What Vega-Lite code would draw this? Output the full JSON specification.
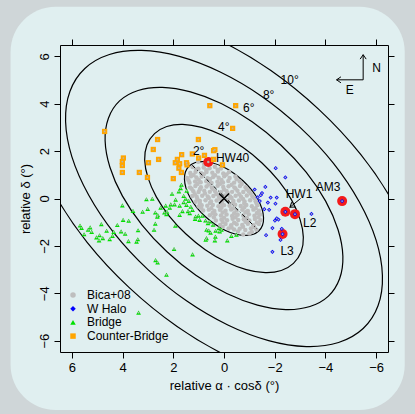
{
"$schema": "https://vega.github.io/schema/vega-lite/v6.json",
"width": 328, "height": 307,
"autosize": {"type": "none"},
"padding": {"left": 60, "top": 45, "right": 27, "bottom": 62},
"background": "#cfd6d8",
"config": {
  "font": "Liberation Sans",
  "view": {"stroke": null},
  "axis": {"zindex": 1, "domainColor": "black", "domainWidth": 1, "tickColor": "black", "tickSize": 6, "tickWidth": 1, "labelColor": "black", "labelFontSize": 13, "labelFont": "Liberation Sans", "titleFont": "Liberation Sans", "titleFontSize": 13, "titleFontWeight": "normal", "titleColor": "black", "grid": false, "labelFlush": false, "labelOverlap": false, "labelBound": false},
  "legend": {"orient": "none", "legendX": 7, "legendY": 244, "labelFontSize": 12, "labelFont": "Liberation Sans", "labelColor": "black", "symbolSize": 30, "rowPadding": 1.7, "labelOffset": 8, "padding": 0, "symbolStrokeWidth": 0, "symbolOpacity": 1}
},
"datasets": {
  "ell": [
    {"r":2,"i":0,"x":1.37,"y":1.37},{"r":2,"i":1,"x":1.13,"y":1.52},{"r":2,"i":2,"x":0.81,"y":1.56},{"r":2,"i":3,"x":0.44,"y":1.50},{"r":2,"i":4,"x":0.04,"y":1.34},{"r":2,"i":5,"x":-0.37,"y":1.08},{"r":2,"i":6,"x":-0.75,"y":0.75},{"r":2,"i":7,"x":-1.08,"y":0.37},{"r":2,"i":8,"x":-1.34,"y":-0.04},{"r":2,"i":9,"x":-1.50,"y":-0.44},{"r":2,"i":10,"x":-1.56,"y":-0.81},{"r":2,"i":11,"x":-1.52,"y":-1.13},{"r":2,"i":12,"x":-1.37,"y":-1.37},{"r":2,"i":13,"x":-1.13,"y":-1.52},{"r":2,"i":14,"x":-0.81,"y":-1.56},{"r":2,"i":15,"x":-0.44,"y":-1.50},{"r":2,"i":16,"x":-0.04,"y":-1.34},{"r":2,"i":17,"x":0.37,"y":-1.08},{"r":2,"i":18,"x":0.75,"y":-0.75},{"r":2,"i":19,"x":1.08,"y":-0.37},{"r":2,"i":20,"x":1.34,"y":0.04},{"r":2,"i":21,"x":1.50,"y":0.44},{"r":2,"i":22,"x":1.56,"y":0.81},{"r":2,"i":23,"x":1.52,"y":1.13},
    {"r":4,"i":0,"x":2.74,"y":2.74},{"r":4,"i":1,"x":2.26,"y":3.04},{"r":4,"i":2,"x":1.63,"y":3.13},{"r":4,"i":3,"x":0.88,"y":3.00},{"r":4,"i":4,"x":0.07,"y":2.67},{"r":4,"i":5,"x":-0.74,"y":2.16},{"r":4,"i":6,"x":-1.50,"y":1.50},{"r":4,"i":7,"x":-2.16,"y":0.74},{"r":4,"i":8,"x":-2.67,"y":-0.07},{"r":4,"i":9,"x":-3.00,"y":-0.88},{"r":4,"i":10,"x":-3.13,"y":-1.63},{"r":4,"i":11,"x":-3.04,"y":-2.26},{"r":4,"i":12,"x":-2.74,"y":-2.74},{"r":4,"i":13,"x":-2.26,"y":-3.04},{"r":4,"i":14,"x":-1.63,"y":-3.13},{"r":4,"i":15,"x":-0.88,"y":-3.00},{"r":4,"i":16,"x":-0.07,"y":-2.67},{"r":4,"i":17,"x":0.74,"y":-2.16},{"r":4,"i":18,"x":1.50,"y":-1.50},{"r":4,"i":19,"x":2.16,"y":-0.74},{"r":4,"i":20,"x":2.67,"y":0.07},{"r":4,"i":21,"x":3.00,"y":0.88},{"r":4,"i":22,"x":3.13,"y":1.63},{"r":4,"i":23,"x":3.04,"y":2.26},
    {"r":6,"i":0,"x":4.12,"y":4.12},{"r":6,"i":1,"x":3.39,"y":4.56},{"r":6,"i":2,"x":2.44,"y":4.69},{"r":6,"i":3,"x":1.32,"y":4.50},{"r":6,"i":4,"x":0.11,"y":4.01},{"r":6,"i":5,"x":-1.11,"y":3.24},{"r":6,"i":6,"x":-2.25,"y":2.25},{"r":6,"i":7,"x":-3.24,"y":1.11},{"r":6,"i":8,"x":-4.01,"y":-0.11},{"r":6,"i":9,"x":-4.50,"y":-1.32},{"r":6,"i":10,"x":-4.69,"y":-2.44},{"r":6,"i":11,"x":-4.56,"y":-3.39},{"r":6,"i":12,"x":-4.12,"y":-4.12},{"r":6,"i":13,"x":-3.39,"y":-4.56},{"r":6,"i":14,"x":-2.44,"y":-4.69},{"r":6,"i":15,"x":-1.32,"y":-4.50},{"r":6,"i":16,"x":-0.11,"y":-4.01},{"r":6,"i":17,"x":1.11,"y":-3.24},{"r":6,"i":18,"x":2.25,"y":-2.25},{"r":6,"i":19,"x":3.24,"y":-1.11},{"r":6,"i":20,"x":4.01,"y":0.11},{"r":6,"i":21,"x":4.50,"y":1.32},{"r":6,"i":22,"x":4.69,"y":2.44},{"r":6,"i":23,"x":4.56,"y":3.39},
    {"r":8,"i":0,"x":5.49,"y":5.49},{"r":8,"i":1,"x":4.52,"y":6.08},{"r":8,"i":2,"x":3.25,"y":6.25},{"r":8,"i":3,"x":1.76,"y":6.00},{"r":8,"i":4,"x":0.15,"y":5.34},{"r":8,"i":5,"x":-1.48,"y":4.32},{"r":8,"i":6,"x":-3.00,"y":3.00},{"r":8,"i":7,"x":-4.32,"y":1.48},{"r":8,"i":8,"x":-5.34,"y":-0.15},{"r":8,"i":9,"x":-6.00,"y":-1.76},{"r":8,"i":10,"x":-6.25,"y":-3.25},{"r":8,"i":11,"x":-6.08,"y":-4.52},{"r":8,"i":12,"x":-5.49,"y":-5.49},{"r":8,"i":13,"x":-4.52,"y":-6.08},{"r":8,"i":14,"x":-3.25,"y":-6.25},{"r":8,"i":15,"x":-1.76,"y":-6.00},{"r":8,"i":16,"x":-0.15,"y":-5.34},{"r":8,"i":17,"x":1.48,"y":-4.32},{"r":8,"i":18,"x":3.00,"y":-3.00},{"r":8,"i":19,"x":4.32,"y":-1.48},{"r":8,"i":20,"x":5.34,"y":0.15},{"r":8,"i":21,"x":6.00,"y":1.76},{"r":8,"i":22,"x":6.25,"y":3.25},{"r":8,"i":23,"x":6.08,"y":4.52},
    {"r":10,"i":0,"x":6.86,"y":6.86},{"r":10,"i":1,"x":5.66,"y":7.60},{"r":10,"i":2,"x":4.07,"y":7.81},{"r":10,"i":3,"x":2.20,"y":7.50},{"r":10,"i":4,"x":0.18,"y":6.68},{"r":10,"i":5,"x":-1.85,"y":5.40},{"r":10,"i":6,"x":-3.75,"y":3.75},{"r":10,"i":7,"x":-5.40,"y":1.85},{"r":10,"i":8,"x":-6.68,"y":-0.18},{"r":10,"i":9,"x":-7.50,"y":-2.20},{"r":10,"i":10,"x":-7.81,"y":-4.07},{"r":10,"i":11,"x":-7.60,"y":-5.66},{"r":10,"i":12,"x":-6.86,"y":-6.86},{"r":10,"i":13,"x":-5.66,"y":-7.60},{"r":10,"i":14,"x":-4.07,"y":-7.81},{"r":10,"i":15,"x":-2.20,"y":-7.50},{"r":10,"i":16,"x":-0.18,"y":-6.68},{"r":10,"i":17,"x":1.85,"y":-5.40},{"r":10,"i":18,"x":3.75,"y":-3.75},{"r":10,"i":19,"x":5.40,"y":-1.85},{"r":10,"i":20,"x":6.68,"y":0.18},{"r":10,"i":21,"x":7.50,"y":2.20},{"r":10,"i":22,"x":7.81,"y":4.07},{"r":10,"i":23,"x":7.60,"y":5.66}
  ],
  "pts": [
    {"t":"Bica+08","x":0.55,"y":1.53},{"t":"Bica+08","x":0.79,"y":1.46},{"t":"Bica+08","x":1.02,"y":1.55},
    {"t":"Bica+08","x":0.12,"y":1.27},{"t":"Bica+08","x":0.36,"y":1.34},{"t":"Bica+08","x":0.57,"y":1.28},{"t":"Bica+08","x":0.8,"y":1.31},{"t":"Bica+08","x":1.01,"y":1.26},{"t":"Bica+08","x":1.24,"y":1.33},
    {"t":"Bica+08","x":-0.2,"y":1.12},{"t":"Bica+08","x":0.03,"y":1.06},{"t":"Bica+08","x":0.24,"y":1.14},{"t":"Bica+08","x":0.46,"y":1.09},{"t":"Bica+08","x":0.69,"y":1.12},{"t":"Bica+08","x":0.9,"y":1.07},{"t":"Bica+08","x":1.12,"y":1.13},{"t":"Bica+08","x":1.33,"y":1.08},
    {"t":"Bica+08","x":-0.45,"y":0.93},{"t":"Bica+08","x":-0.22,"y":0.87},{"t":"Bica+08","x":-0.01,"y":0.94},{"t":"Bica+08","x":0.21,"y":0.88},{"t":"Bica+08","x":0.43,"y":0.91},{"t":"Bica+08","x":0.65,"y":0.86},{"t":"Bica+08","x":0.88,"y":0.93},{"t":"Bica+08","x":1.09,"y":0.89},{"t":"Bica+08","x":1.3,"y":0.94},{"t":"Bica+08","x":1.46,"y":0.87},
    {"t":"Bica+08","x":-0.62,"y":0.72},{"t":"Bica+08","x":-0.4,"y":0.67},{"t":"Bica+08","x":-0.17,"y":0.74},{"t":"Bica+08","x":0.04,"y":0.68},{"t":"Bica+08","x":0.26,"y":0.71},{"t":"Bica+08","x":0.49,"y":0.66},{"t":"Bica+08","x":0.7,"y":0.73},{"t":"Bica+08","x":0.92,"y":0.69},{"t":"Bica+08","x":1.14,"y":0.72},{"t":"Bica+08","x":1.36,"y":0.67},
    {"t":"Bica+08","x":-0.85,"y":0.48},{"t":"Bica+08","x":-0.63,"y":0.53},{"t":"Bica+08","x":-0.41,"y":0.47},{"t":"Bica+08","x":-0.18,"y":0.52},{"t":"Bica+08","x":0.03,"y":0.49},{"t":"Bica+08","x":0.25,"y":0.54},{"t":"Bica+08","x":0.48,"y":0.46},{"t":"Bica+08","x":0.69,"y":0.51},{"t":"Bica+08","x":0.91,"y":0.48},{"t":"Bica+08","x":1.13,"y":0.53},{"t":"Bica+08","x":1.34,"y":0.47},
    {"t":"Bica+08","x":-0.98,"y":0.31},{"t":"Bica+08","x":-0.76,"y":0.27},{"t":"Bica+08","x":-0.53,"y":0.33},{"t":"Bica+08","x":-0.32,"y":0.28},{"t":"Bica+08","x":-0.1,"y":0.32},{"t":"Bica+08","x":0.12,"y":0.26},{"t":"Bica+08","x":0.35,"y":0.31},{"t":"Bica+08","x":0.56,"y":0.28},{"t":"Bica+08","x":0.78,"y":0.33},{"t":"Bica+08","x":1.0,"y":0.27},{"t":"Bica+08","x":1.21,"y":0.31},
    {"t":"Bica+08","x":-1.12,"y":0.08},{"t":"Bica+08","x":-0.9,"y":0.13},{"t":"Bica+08","x":-0.67,"y":0.07},{"t":"Bica+08","x":-0.46,"y":0.12},{"t":"Bica+08","x":-0.24,"y":0.09},{"t":"Bica+08","x":-0.02,"y":0.13},{"t":"Bica+08","x":0.2,"y":0.06},{"t":"Bica+08","x":0.42,"y":0.11},{"t":"Bica+08","x":0.64,"y":0.08},{"t":"Bica+08","x":0.86,"y":0.12},{"t":"Bica+08","x":1.08,"y":0.07},{"t":"Bica+08","x":1.25,"y":0.11},
    {"t":"Bica+08","x":-1.25,"y":-0.12},{"t":"Bica+08","x":-1.03,"y":-0.07},{"t":"Bica+08","x":-0.81,"y":-0.13},{"t":"Bica+08","x":-0.59,"y":-0.08},{"t":"Bica+08","x":-0.37,"y":-0.11},{"t":"Bica+08","x":-0.15,"y":-0.06},{"t":"Bica+08","x":0.07,"y":-0.12},{"t":"Bica+08","x":0.29,"y":-0.08},{"t":"Bica+08","x":0.51,"y":-0.13},{"t":"Bica+08","x":0.73,"y":-0.07},{"t":"Bica+08","x":0.95,"y":-0.1},{"t":"Bica+08","x":1.12,"y":-0.14},
    {"t":"Bica+08","x":-1.32,"y":-0.28},{"t":"Bica+08","x":-1.1,"y":-0.33},{"t":"Bica+08","x":-0.88,"y":-0.27},{"t":"Bica+08","x":-0.66,"y":-0.32},{"t":"Bica+08","x":-0.44,"y":-0.26},{"t":"Bica+08","x":-0.22,"y":-0.31},{"t":"Bica+08","x":0.0,"y":-0.28},{"t":"Bica+08","x":0.22,"y":-0.33},{"t":"Bica+08","x":0.44,"y":-0.27},{"t":"Bica+08","x":0.66,"y":-0.31},{"t":"Bica+08","x":0.88,"y":-0.28},{"t":"Bica+08","x":1.0,"y":-0.34},
    {"t":"Bica+08","x":-1.38,"y":-0.52},{"t":"Bica+08","x":-1.16,"y":-0.47},{"t":"Bica+08","x":-0.94,"y":-0.53},{"t":"Bica+08","x":-0.72,"y":-0.48},{"t":"Bica+08","x":-0.5,"y":-0.51},{"t":"Bica+08","x":-0.28,"y":-0.46},{"t":"Bica+08","x":-0.06,"y":-0.52},{"t":"Bica+08","x":0.16,"y":-0.48},{"t":"Bica+08","x":0.38,"y":-0.53},{"t":"Bica+08","x":0.6,"y":-0.47},{"t":"Bica+08","x":0.82,"y":-0.51},
    {"t":"Bica+08","x":-1.42,"y":-0.68},{"t":"Bica+08","x":-1.2,"y":-0.73},{"t":"Bica+08","x":-0.98,"y":-0.67},{"t":"Bica+08","x":-0.76,"y":-0.72},{"t":"Bica+08","x":-0.54,"y":-0.69},{"t":"Bica+08","x":-0.32,"y":-0.74},{"t":"Bica+08","x":-0.1,"y":-0.68},{"t":"Bica+08","x":0.12,"y":-0.72},{"t":"Bica+08","x":0.34,"y":-0.67},{"t":"Bica+08","x":0.56,"y":-0.71},
    {"t":"Bica+08","x":-1.44,"y":-0.92},{"t":"Bica+08","x":-1.22,"y":-0.87},{"t":"Bica+08","x":-1.0,"y":-0.93},{"t":"Bica+08","x":-0.78,"y":-0.88},{"t":"Bica+08","x":-0.56,"y":-0.91},{"t":"Bica+08","x":-0.34,"y":-0.86},{"t":"Bica+08","x":-0.12,"y":-0.92},{"t":"Bica+08","x":0.1,"y":-0.89},{"t":"Bica+08","x":0.32,"y":-0.93},
    {"t":"Bica+08","x":-1.38,"y":-1.08},{"t":"Bica+08","x":-1.16,"y":-1.13},{"t":"Bica+08","x":-0.94,"y":-1.07},{"t":"Bica+08","x":-0.72,"y":-1.12},{"t":"Bica+08","x":-0.5,"y":-1.09},{"t":"Bica+08","x":-0.28,"y":-1.13},{"t":"Bica+08","x":-0.06,"y":-1.08},{"t":"Bica+08","x":0.15,"y":-1.12},
    {"t":"Bica+08","x":-1.28,"y":-1.32},{"t":"Bica+08","x":-1.06,"y":-1.27},{"t":"Bica+08","x":-0.84,"y":-1.33},{"t":"Bica+08","x":-0.62,"y":-1.28},{"t":"Bica+08","x":-0.4,"y":-1.31},{"t":"Bica+08","x":-0.18,"y":-1.27},
    {"t":"Bica+08","x":-1.0,"y":-1.48},{"t":"Bica+08","x":-0.76,"y":-1.52},
    {"t":"Bica+08","x":0.25,"y":1.21},{"t":"Bica+08","x":0.7,"y":1.19},{"t":"Bica+08","x":1.1,"y":1.22},
    {"t":"Bica+08","x":-0.1,"y":1.01},{"t":"Bica+08","x":0.35,"y":0.98},{"t":"Bica+08","x":0.8,"y":1.02},{"t":"Bica+08","x":1.2,"y":0.99},
    {"t":"Bica+08","x":-0.5,"y":0.81},{"t":"Bica+08","x":0.1,"y":0.78},{"t":"Bica+08","x":0.55,"y":0.82},{"t":"Bica+08","x":1.0,"y":0.79},{"t":"Bica+08","x":1.4,"y":0.77},
    {"t":"Bica+08","x":-0.7,"y":0.61},{"t":"Bica+08","x":-0.3,"y":0.58},{"t":"Bica+08","x":0.15,"y":0.62},{"t":"Bica+08","x":0.6,"y":0.59},{"t":"Bica+08","x":1.05,"y":0.61},
    {"t":"Bica+08","x":-0.9,"y":0.39},{"t":"Bica+08","x":-0.45,"y":0.42},{"t":"Bica+08","x":0.0,"y":0.38},{"t":"Bica+08","x":0.45,"y":0.41},{"t":"Bica+08","x":0.95,"y":0.39},{"t":"Bica+08","x":1.28,"y":0.41},
    {"t":"Bica+08","x":-1.05,"y":0.21},{"t":"Bica+08","x":-0.6,"y":0.18},{"t":"Bica+08","x":-0.15,"y":0.22},{"t":"Bica+08","x":0.3,"y":0.19},{"t":"Bica+08","x":0.75,"y":0.21},{"t":"Bica+08","x":1.15,"y":0.18},
    {"t":"Bica+08","x":-1.2,"y":0.01},{"t":"Bica+08","x":-0.75,"y":-0.02},{"t":"Bica+08","x":-0.3,"y":0.02},{"t":"Bica+08","x":0.15,"y":-0.01},{"t":"Bica+08","x":0.6,"y":0.02},{"t":"Bica+08","x":1.05,"y":-0.02},
    {"t":"Bica+08","x":-1.28,"y":-0.19},{"t":"Bica+08","x":-0.8,"y":-0.21},{"t":"Bica+08","x":-0.35,"y":-0.18},{"t":"Bica+08","x":0.1,"y":-0.22},{"t":"Bica+08","x":0.55,"y":-0.19},{"t":"Bica+08","x":0.95,"y":-0.21},
    {"t":"Bica+08","x":-1.25,"y":-0.41},{"t":"Bica+08","x":-0.8,"y":-0.38},{"t":"Bica+08","x":-0.35,"y":-0.42},{"t":"Bica+08","x":0.1,"y":-0.39},{"t":"Bica+08","x":0.5,"y":-0.41},{"t":"Bica+08","x":0.9,"y":-0.39},
    {"t":"Bica+08","x":-1.3,"y":-0.61},{"t":"Bica+08","x":-0.85,"y":-0.58},{"t":"Bica+08","x":-0.4,"y":-0.62},{"t":"Bica+08","x":0.05,"y":-0.59},{"t":"Bica+08","x":0.45,"y":-0.61},
    {"t":"Bica+08","x":-1.35,"y":-0.79},{"t":"Bica+08","x":-0.9,"y":-0.82},{"t":"Bica+08","x":-0.45,"y":-0.79},{"t":"Bica+08","x":0.0,"y":-0.81},{"t":"Bica+08","x":0.4,"y":-0.79},
    {"t":"Bica+08","x":-1.3,"y":-1.01},{"t":"Bica+08","x":-0.85,"y":-0.98},{"t":"Bica+08","x":-0.4,"y":-1.02},{"t":"Bica+08","x":0.05,"y":-0.99},
    {"t":"Bica+08","x":-1.2,"y":-1.21},{"t":"Bica+08","x":-0.75,"y":-1.19},{"t":"Bica+08","x":-0.3,"y":-1.22},{"t":"Bica+08","x":0.05,"y":-1.2},
    {"t":"Bica+08","x":-1.1,"y":-1.41},{"t":"Bica+08","x":-0.55,"y":-1.39},
    {"t":"W Halo","x":-2.04,"y":1.28},{"t":"W Halo","x":-2.42,"y":0.89},{"t":"W Halo","x":-1.63,"y":0.49},{"t":"W Halo","x":-1.21,"y":0.38},{"t":"W Halo","x":-1.50,"y":0.23},{"t":"W Halo","x":-1.45,"y":0.14},{"t":"W Halo","x":-1.33,"y":0.05},{"t":"W Halo","x":-2.08,"y":0.04},{"t":"W Halo","x":-1.84,"y":0.04},{"t":"W Halo","x":-1.41,"y":-0.11},{"t":"W Halo","x":-1.73,"y":-0.17},{"t":"W Halo","x":-2.03,"y":-0.22},{"t":"W Halo","x":-1.59,"y":-0.45},{"t":"W Halo","x":-1.78,"y":-0.48},{"t":"W Halo","x":-2.08,"y":-0.84},{"t":"W Halo","x":-2.01,"y":-0.93},{"t":"W Halo","x":-2.15,"y":-0.89},{"t":"W Halo","x":-2.42,"y":-0.56},{"t":"W Halo","x":-2.80,"y":-0.66},{"t":"W Halo","x":-3.45,"y":-0.65},{"t":"W Halo","x":-1.91,"y":-1.25},{"t":"W Halo","x":-2.28,"y":-1.28},{"t":"W Halo","x":-2.31,"y":-1.50},{"t":"W Halo","x":-1.66,"y":-1.55},{"t":"W Halo","x":-2.23,"y":-1.75},{"t":"W Halo","x":-1.91,"y":-2.25},{"t":"W Halo","x":-4.66,"y":-0.11},
    {"t":"Bridge","x":5.68,"y":-1.14},{"t":"Bridge","x":5.52,"y":-1.51},{"t":"Bridge","x":5.36,"y":-1.32},{"t":"Bridge","x":5.28,"y":-1.22},{"t":"Bridge","x":5.03,"y":-1.64},{"t":"Bridge","x":4.93,"y":-1.77},{"t":"Bridge","x":4.91,"y":-1.55},{"t":"Bridge","x":4.78,"y":-1.67},{"t":"Bridge","x":4.84,"y":-1.08},{"t":"Bridge","x":4.51,"y":-1.72},
    {"t":"Bridge","x":4.35,"y":-1.41},{"t":"Bridge","x":4.21,"y":-1.12},{"t":"Bridge","x":4.01,"y":-0.29},{"t":"Bridge","x":3.98,"y":-0.90},{"t":"Bridge","x":4.06,"y":-1.39},{"t":"Bridge","x":3.90,"y":-1.49},{"t":"Bridge","x":3.77,"y":-1.80},{"t":"Bridge","x":3.59,"y":-0.52},{"t":"Bridge","x":3.39,"y":-1.34},{"t":"Bridge","x":3.40,"y":-1.72},
    {"t":"Bridge","x":3.45,"y":-1.82},{"t":"Bridge","x":3.06,"y":-0.03},{"t":"Bridge","x":2.83,"y":-0.01},{"t":"Bridge","x":3.01,"y":-0.44},{"t":"Bridge","x":2.71,"y":-0.59},{"t":"Bridge","x":2.61,"y":-0.70},{"t":"Bridge","x":2.63,"y":-0.77},{"t":"Bridge","x":2.71,"y":-1.06},{"t":"Bridge","x":2.76,"y":-1.32},{"t":"Bridge","x":2.30,"y":-0.30},
    {"t":"Bridge","x":2.10,"y":-0.25},{"t":"Bridge","x":1.95,"y":-0.25},{"t":"Bridge","x":2.35,"y":-0.59},{"t":"Bridge","x":2.25,"y":-0.56},{"t":"Bridge","x":2.27,"y":-0.66},{"t":"Bridge","x":2.05,"y":0.20},{"t":"Bridge","x":1.78,"y":0.30},{"t":"Bridge","x":1.71,"y":0.44},{"t":"Bridge","x":1.68,"y":0.58},{"t":"Bridge","x":1.75,"y":-0.30},
    {"t":"Bridge","x":1.59,"y":-0.16},{"t":"Bridge","x":1.48,"y":-0.27},{"t":"Bridge","x":1.75,"y":-0.69},{"t":"Bridge","x":1.64,"y":-0.53},{"t":"Bridge","x":1.42,"y":-0.53},{"t":"Bridge","x":1.35,"y":-0.62},{"t":"Bridge","x":1.92,"y":-1.15},{"t":"Bridge","x":1.97,"y":-2.13},{"t":"Bridge","x":1.24,"y":-2.36},{"t":"Bridge","x":2.70,"y":-2.60},
    {"t":"Bridge","x":2.62,"y":-2.70},{"t":"Bridge","x":2.27,"y":-3.22},{"t":"Bridge","x":3.37,"y":-4.82},{"t":"Bridge","x":1.14,"y":-0.86},{"t":"Bridge","x":1.01,"y":-0.72},{"t":"Bridge","x":0.85,"y":-0.73},{"t":"Bridge","x":0.96,"y":-0.90},{"t":"Bridge","x":1.12,"y":-0.76},{"t":"Bridge","x":0.73,"y":-0.93},{"t":"Bridge","x":0.63,"y":-1.04},
    {"t":"Bridge","x":0.56,"y":-0.97},{"t":"Bridge","x":0.43,"y":-1.11},{"t":"Bridge","x":0.20,"y":-1.25},{"t":"Bridge","x":0.10,"y":-1.32},{"t":"Bridge","x":0.33,"y":-1.36},{"t":"Bridge","x":0.60,"y":-1.35},{"t":"Bridge","x":0.53,"y":-1.44},{"t":"Bridge","x":0.69,"y":-1.32},{"t":"Bridge","x":0.72,"y":-1.74},{"t":"Bridge","x":0.69,"y":-1.67},
    {"t":"Bridge","x":0.36,"y":-1.77},{"t":"Bridge","x":0.34,"y":-1.61},{"t":"Bridge","x":-0.13,"y":-1.77},{"t":"Bridge","x":-0.49,"y":-1.53},{"t":"Bridge","x":1.59,"y":0.11},{"t":"Bridge","x":1.51,"y":-0.01},{"t":"Bridge","x":1.39,"y":-0.10},{"t":"Bridge","x":1.31,"y":-0.35},{"t":"Bridge","x":1.24,"y":-0.48},{"t":"Bridge","x":1.47,"y":0.33},
    {"t":"Bridge","x":1.91,"y":-0.05},{"t":"Bridge","x":2.14,"y":-0.39},{"t":"Bridge","x":2.50,"y":-0.39},{"t":"Bridge","x":3.21,"y":-0.56},{"t":"Bridge","x":3.76,"y":-0.94},{"t":"Bridge","x":4.40,"y":-1.58},{"t":"Bridge","x":4.63,"y":-1.36},{"t":"Bridge","x":5.22,"y":-1.41},{"t":"Bridge","x":5.62,"y":-1.24},{"t":"Bridge","x":-0.29,"y":-1.58},{"t":"Bridge","x":0.17,"y":-1.39},
    {"t":"Counter-Bridge","x":0.56,"y":3.92},{"t":"Counter-Bridge","x":-0.46,"y":3.92},{"t":"Counter-Bridge","x":-0.34,"y":2.96},{"t":"Counter-Bridge","x":4.71,"y":2.83},{"t":"Counter-Bridge","x":2.62,"y":2.49},{"t":"Counter-Bridge","x":1.01,"y":2.49},{"t":"Counter-Bridge","x":2.79,"y":2.07},{"t":"Counter-Bridge","x":0.36,"y":2.06},{"t":"Counter-Bridge","x":0.41,"y":2.02},{"t":"Counter-Bridge","x":3.97,"y":1.71},
    {"t":"Counter-Bridge","x":4.01,"y":1.56},{"t":"Counter-Bridge","x":4.01,"y":1.39},{"t":"Counter-Bridge","x":2.58,"y":1.65},{"t":"Counter-Bridge","x":1.67,"y":1.85},{"t":"Counter-Bridge","x":1.84,"y":1.65},{"t":"Counter-Bridge","x":1.92,"y":1.51},{"t":"Counter-Bridge","x":1.75,"y":1.47},{"t":"Counter-Bridge","x":1.48,"y":1.51},{"t":"Counter-Bridge","x":1.46,"y":1.42},{"t":"Counter-Bridge","x":1.00,"y":1.71},
    {"t":"Counter-Bridge","x":0.77,"y":1.82},{"t":"Counter-Bridge","x":0.41,"y":1.65},{"t":"Counter-Bridge","x":0.06,"y":1.42},{"t":"Counter-Bridge","x":2.98,"y":1.51},{"t":"Counter-Bridge","x":1.78,"y":1.28},{"t":"Counter-Bridge","x":1.68,"y":1.10},{"t":"Counter-Bridge","x":3.34,"y":1.10},{"t":"Counter-Bridge","x":4.01,"y":1.10},{"t":"Counter-Bridge","x":3.02,"y":0.89},{"t":"Counter-Bridge","x":2.00,"y":0.84},{"t":"Counter-Bridge","x":1.25,"y":1.88}
  ],
  "hi": [
    {"n":"HW40","x":0.62,"y":1.54},{"n":"HW1","x":-2.42,"y":-0.56},{"n":"L2","x":-2.80,"y":-0.66},{"n":"L3","x":-2.31,"y":-1.50},{"n":"AM3","x":-4.66,"y":-0.11}
  ],
  "lab": [
    {"s":"HW1","x":-2.96,"y":0.19},{"s":"L2","x":-3.38,"y":-1.04},{"s":"L3","x":-2.49,"y":-2.20},{"s":"AM3","x":-4.11,"y":0.48},
    {"s":"2°","x":1.0,"y":1.99},{"s":"4°","x":0.01,"y":3.0},{"s":"6°","x":-0.98,"y":3.8},{"s":"8°","x":-1.76,"y":4.38},{"s":"10°","x":-2.59,"y":4.99},
    {"s":"N","x":-6.02,"y":5.51},{"s":"E","x":-4.96,"y":4.56}
  ],
  "segs": [
    {"x":-3.02,"y":0.0,"x2":-2.6,"y2":-0.37},
    {"x":-5.49,"y":5.01,"x2":-5.49,"y2":6.07},
    {"x":-5.49,"y":5.01,"x2":-4.44,"y2":5.01}
  ]
},
"resolve": {"axis": {"x": "independent", "y": "independent"}},
"layer": [
  {"data": {"values": [{}]},
   "mark": {"type": "rect", "cornerRadius": 45, "fill": "#e0eff0"},
   "encoding": {
     "x": {"datum": 8.42, "type": "quantitative", "axis": null, "scale": {"domain": [-6.47, 6.47], "reverse": true, "nice": false, "zero": false}},
     "x2": {"datum": -7.13},
     "y": {"datum": 8.09, "type": "quantitative", "axis": null, "scale": {"domain": [-6.48, 6.48], "nice": false, "zero": false}},
     "y2": {"datum": -8.93}}},
  {"data": {"name": "ell"},
   "mark": {"type": "line", "interpolate": "cardinal-closed", "clip": true, "color": "black", "strokeWidth": 1.2},
   "encoding": {
     "x": {"field": "x", "type": "quantitative", "scale": {"domain": [-6.47, 6.47], "reverse": true, "nice": false, "zero": false},
           "axis": {"orient": "bottom", "zindex": 2, "values": [-6,-4,-2,0,2,4,6], "title": "relative α · cosδ (°)", "labelPadding": 3, "titlePadding": 5}},
     "y": {"field": "y", "type": "quantitative", "scale": {"domain": [-6.48, 6.48], "nice": false, "zero": false},
           "axis": {"orient": "left", "zindex": 2, "values": [-6,-4,-2,0,2,4,6], "title": "relative δ (°)", "labelAngle": -90, "labelAlign": "center", "labelBaseline": "bottom", "labelPadding": 3, "titlePadding": 6}},
     "detail": {"field": "r", "type": "nominal"},
     "order": {"field": "i", "type": "quantitative"}}},
  {"data": {"name": "pts"},
   "transform": [{"filter": "datum.t === 'Bica+08'"}],
   "mark": {"type": "point", "filled": true, "size": 20, "opacity": 1},
   "encoding": {
     "x": {"field": "x", "type": "quantitative", "axis": {"orient": "top", "zindex": 2, "values": [-6,-4,-2,0,2,4,6], "labels": false, "title": null}},
     "y": {"field": "y", "type": "quantitative", "axis": {"orient": "right", "zindex": 2, "values": [-6,-4,-2,0,2,4,6], "labels": false, "title": null}},
     "color": {"field": "t", "type": "nominal", "title": null,
               "scale": {"domain": ["Bica+08", "W Halo", "Bridge", "Counter-Bridge"], "range": ["#bebebe", "#0000ff", "#00e000", "#ffa500"]}},
     "shape": {"field": "t", "type": "nominal", "title": null,
               "scale": {"domain": ["Bica+08", "W Halo", "Bridge", "Counter-Bridge"], "range": ["circle", "diamond", "triangle-up", "square"]}}}},
  {"data": {"name": "hi"},
   "mark": {"type": "point", "filled": true, "size": 100, "opacity": 1, "color": "#f21a1a"},
   "encoding": {
     "x": {"field": "x", "type": "quantitative", "axis": null},
     "y": {"field": "y", "type": "quantitative", "axis": null}}},
  {"data": {"name": "hi"},
   "mark": {"type": "point", "filled": true, "size": 6, "opacity": 1, "color": "#b0b0b0"},
   "encoding": {
     "x": {"field": "x", "type": "quantitative", "axis": null},
     "y": {"field": "y", "type": "quantitative", "axis": null}}},
  {"data": {"name": "pts"},
   "transform": [{"filter": "datum.t !== 'Bica+08'"}],
   "mark": {"type": "point", "filled": true, "opacity": 1},
   "encoding": {
     "x": {"field": "x", "type": "quantitative", "axis": null},
     "y": {"field": "y", "type": "quantitative", "axis": null},
     "size": {"field": "t", "type": "nominal", "legend": null, "scale": {"domain": ["W Halo", "Bridge", "Counter-Bridge"], "range": [18, 28, 27]}},
     "color": {"field": "t", "type": "nominal", "title": null},
     "shape": {"field": "t", "type": "nominal", "title": null}}},
  {"data": {"name": "pts"},
   "transform": [{"filter": "datum.t !== 'Bica+08'"}],
   "mark": {"type": "point", "filled": true, "size": 3, "opacity": 1, "color": "#b4b4b4"},
   "encoding": {
     "x": {"field": "x", "type": "quantitative", "axis": null},
     "y": {"field": "y", "type": "quantitative", "axis": null}}},
  {"data": {"values": [{"x": 1.25, "y": 1.40, "x2": -1.30, "y2": -1.28}]},
   "mark": {"type": "rule", "color": "black", "strokeWidth": 1, "strokeDash": [4, 2.5, 1, 2.5]},
   "encoding": {
     "x": {"field": "x", "type": "quantitative", "axis": null},
     "y": {"field": "y", "type": "quantitative", "axis": null},
     "x2": {"field": "x2"}, "y2": {"field": "y2"}}},
  {"data": {"values": [{"x": 0, "y": 0}]},
   "mark": {"type": "point", "shape": "M-1,-1L1,1M-1,1L1,-1", "size": 100, "filled": false, "color": "black", "strokeWidth": 1.6, "opacity": 1},
   "encoding": {
     "x": {"field": "x", "type": "quantitative", "axis": null},
     "y": {"field": "y", "type": "quantitative", "axis": null}}},
  {"data": {"name": "lab"},
   "mark": {"type": "text", "fontSize": 12, "align": "center", "baseline": "middle", "color": "black"},
   "encoding": {
     "x": {"field": "x", "type": "quantitative", "axis": null},
     "y": {"field": "y", "type": "quantitative", "axis": null},
     "text": {"field": "s"}}},
  {"data": {"values": [{"s": "HW40", "x": 0.32, "y": 1.70}]},
   "mark": {"type": "text", "fontSize": 12, "align": "left", "baseline": "middle", "color": "black"},
   "encoding": {
     "x": {"field": "x", "type": "quantitative", "axis": null},
     "y": {"field": "y", "type": "quantitative", "axis": null},
     "text": {"field": "s"}}},
  {"data": {"name": "segs"},
   "mark": {"type": "rule", "color": "black", "strokeWidth": 1},
   "encoding": {
     "x": {"field": "x", "type": "quantitative", "axis": null},
     "y": {"field": "y", "type": "quantitative", "axis": null},
     "x2": {"field": "x2"}, "y2": {"field": "y2"}}},
  {"data": {"values": [{"x": -2.6, "y": -0.37}]},
   "mark": {"type": "point", "shape": "M-0.75,1.1L0,0L0.75,1.1", "size": 64, "filled": false, "color": "black", "strokeWidth": 1, "opacity": 1, "angle": 234},
   "encoding": {
     "x": {"field": "x", "type": "quantitative", "axis": null},
     "y": {"field": "y", "type": "quantitative", "axis": null}}},
  {"data": {"values": [{"x": -5.49, "y": 6.07}]},
   "mark": {"type": "point", "shape": "M-0.75,1.1L0,0L0.75,1.1", "size": 64, "filled": false, "color": "black", "strokeWidth": 1, "opacity": 1, "angle": 0},
   "encoding": {
     "x": {"field": "x", "type": "quantitative", "axis": null},
     "y": {"field": "y", "type": "quantitative", "axis": null}}},
  {"data": {"values": [{"x": -4.44, "y": 5.01}]},
   "mark": {"type": "point", "shape": "M-0.75,1.1L0,0L0.75,1.1", "size": 64, "filled": false, "color": "black", "strokeWidth": 1, "opacity": 1, "angle": 270},
   "encoding": {
     "x": {"field": "x", "type": "quantitative", "axis": null},
     "y": {"field": "y", "type": "quantitative", "axis": null}}}
]
}
